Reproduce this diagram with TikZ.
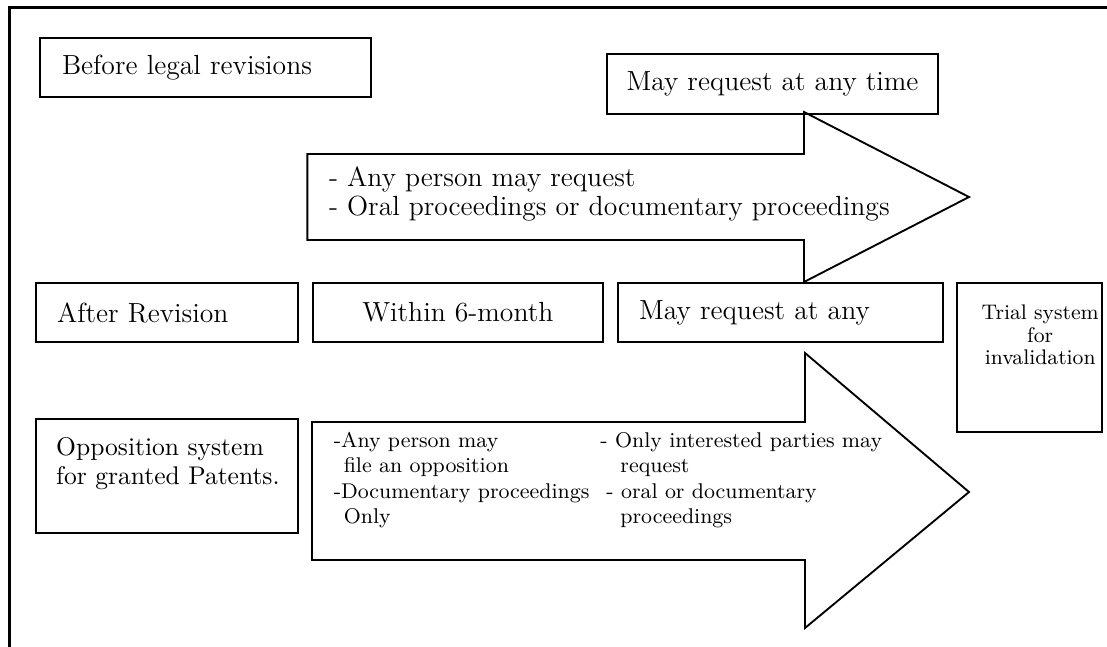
\documentclass[tikz,border=0pt]{standalone}
\usetikzlibrary{positioning}
\begin{document}
\begin{tikzpicture}[
    panel/.style={draw, line width=0.8pt, inner sep=0pt, minimum height=0.885cm},
    bigtxt/.style={font=\fontsize{11.8}{12.4}\selectfont},
    smalltxt/.style={font=\fontsize{9.1}{10.9}\selectfont, inner sep=0pt},
    blockarr/.style={draw, line width=0.8pt, line join=miter},
    edgeline/.style={line width=1pt}]
  \useasboundingbox (0,0) rectangle (16.605,-9.705);

  % Open frame, only the top and the left side are there.
  \draw[edgeline] (0.14,-9.705) -- (0.14,-0.11) -- (16.605,-0.11);

  % Before the revision.
  \node[panel, bigtxt, minimum width=4.965cm, text width=4.305cm, align=left] (before) at (3.083,-1.013) {Before legal revisions};
  \node[panel, bigtxt, minimum width=4.965cm, minimum height=0.9cm] (anytime) at (11.588,-1.26) {May request at any time};
  \draw[blockarr] (4.61,-2.31) coordinate (up) -- (12.06,-2.31) -- (12.06,-1.68) -- (14.535,-2.955)
    -- (12.06,-4.23) -- (12.06,-3.6) -- (4.61,-3.6) -- cycle;
  \node[bigtxt, inner sep=0pt, align=left, anchor=north west] (uptext) at ([xshift=0.32cm, yshift=-0.19cm]up)
    {- Any person may request\\- Oral proceedings or documentary proceedings};

  % After the revision.
  \node[panel, bigtxt, minimum width=3.93cm, text width=3.3cm, align=left] (after) at (2.505,-4.688) {After Revision};
  \node[panel, bigtxt, minimum width=4.355cm] (sixmonth) at (6.868,-4.688) {Within 6-month};
  \node[panel, bigtxt, minimum width=4.87cm, text width=4.24cm, align=left] (anyreq) at (11.705,-4.688) {May request at any};
  \node[panel, minimum width=2.175cm, minimum height=2.235cm] (trial) at (15.443,-5.363) {};
  \node[smalltxt, font=\fontsize{9}{9.6}\selectfont, align=center, anchor=north] (trialtxt)
    at ([xshift=0.16cm, yshift=-0.34cm]trial.north) {Trial system\\for\\invalidation};

  \node[panel, minimum width=3.93cm, minimum height=1.71cm] (opp) at (2.505,-7.14) {};
  \node[font=\fontsize{10.9}{12.4}\selectfont, inner sep=0pt, align=left, anchor=north west] (opptxt)
    at ([xshift=0.31cm, yshift=-0.28cm]opp.north west) {Opposition system\\for granted Patents.};

  \draw[blockarr] (4.68,-6.33) coordinate (low) -- (12.075,-6.33) -- (12.075,-5.295) -- (14.535,-7.38)
    -- (12.075,-9.42) -- (12.075,-8.4) -- (4.68,-8.4) -- cycle;
  \node[smalltxt, align=left, anchor=west] (lowleft) at ([xshift=0.32cm, yshift=-0.87cm]low)
    {-Any person may\\\hspace*{1.5mm}file an opposition\\-Documentary proceedings\\\hspace*{1.5mm}Only};
  \node[smalltxt, align=left, anchor=west] (lowright) at ([xshift=4cm]lowleft.west)
    {- Only interested parties may\\\hspace*{3mm}request\\\hspace*{0.9mm}- oral or documentary\\\hspace*{3mm}proceedings};
\end{tikzpicture}
\end{document}
